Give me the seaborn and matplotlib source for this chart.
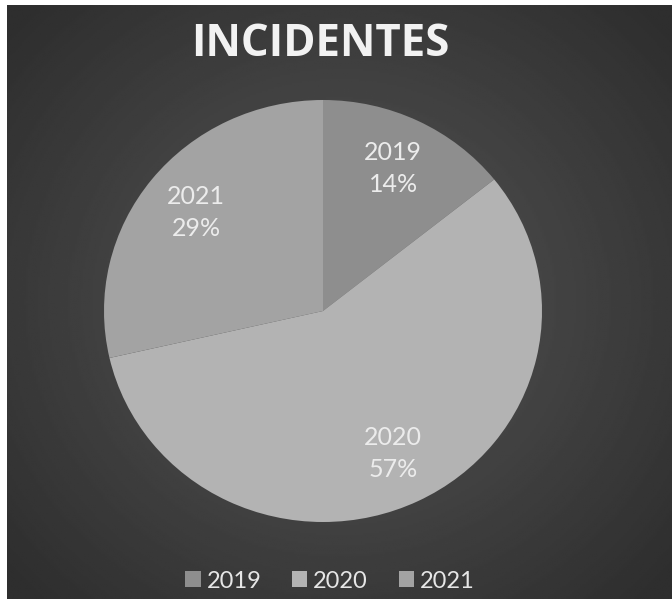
import numpy as np
import matplotlib
matplotlib.use("Agg")
import matplotlib.pyplot as plt
import seaborn as sns
from matplotlib.patches import Patch

sns.set_theme(style="white")
plt.rcParams['font.family'] = ['Lato', 'DejaVu Sans']

years = ["2019", "2020", "2021"]
values = [1, 4, 2]
colors = ["#8e8e8e", "#b3b3b3", "#a3a3a3"]
title = "INCIDENTES"

W, H = 672, 599
fig = plt.figure(figsize=(W / 100, H / 100), dpi=100, facecolor="white")

# background with radial gradient
bg = fig.add_axes([7 / W, 0, (W - 7) / W, (H - 5) / H])
yy, xx = np.mgrid[-1:1:300j, -1:1:330j]
r = np.sqrt(xx ** 2 + (yy * 0.95) ** 2)
img = np.clip(0.34 - 0.12 * r, 0.18, 0.34)
bg.imshow(img, cmap="gray", vmin=0, vmax=1, aspect="auto", extent=[0, 1, 0, 1])
bg.set_axis_off()

cx, cy, Rx, Ry = 323, H - 311, 219, 211
ax = fig.add_axes([(cx - Rx) / W, (cy - Ry) / H, 2 * Rx / W, 2 * Ry / H])
ax.set_facecolor("none")
total = sum(values)

wedges, texts = ax.pie(values, colors=colors, startangle=90, counterclock=False,
                       radius=1, labels=None,
                       wedgeprops=dict(linewidth=0))[:2]
for w, yv, v in zip(wedges, years, values):
    ang = np.deg2rad((w.theta1 + w.theta2) / 2)
    ax.text(0.74 * np.cos(ang), 0.75 * np.sin(ang), f"{yv}\n{round(v / total * 100)}%",
            ha="center", va="center", color="#ececec", fontsize=18,
            linespacing=1.45)
ax.set_aspect("auto")
ax.set_xlim(-1, 1)
ax.set_ylim(-1, 1)
ax.set_axis_off()

fig.text(320 / W, 1 - 44 / H, title, ha="center", va="center", color="#f2f2f2",
         fontsize=31.5, fontweight="bold", family=["Open Sans", "DejaVu Sans"])

handles = [Patch(facecolor=c, edgecolor="none") for c in colors]
leg = fig.legend(handles, years, loc="center", bbox_to_anchor=(330 / W, 1 - 581 / H),
                 ncol=3, frameon=False, fontsize=17, labelcolor="#e6e6e6",
                 handlelength=0.65, handleheight=0.65, handletextpad=0.25,
                 columnspacing=1.3)

fig.savefig("out.png", dpi=100, facecolor="white")
